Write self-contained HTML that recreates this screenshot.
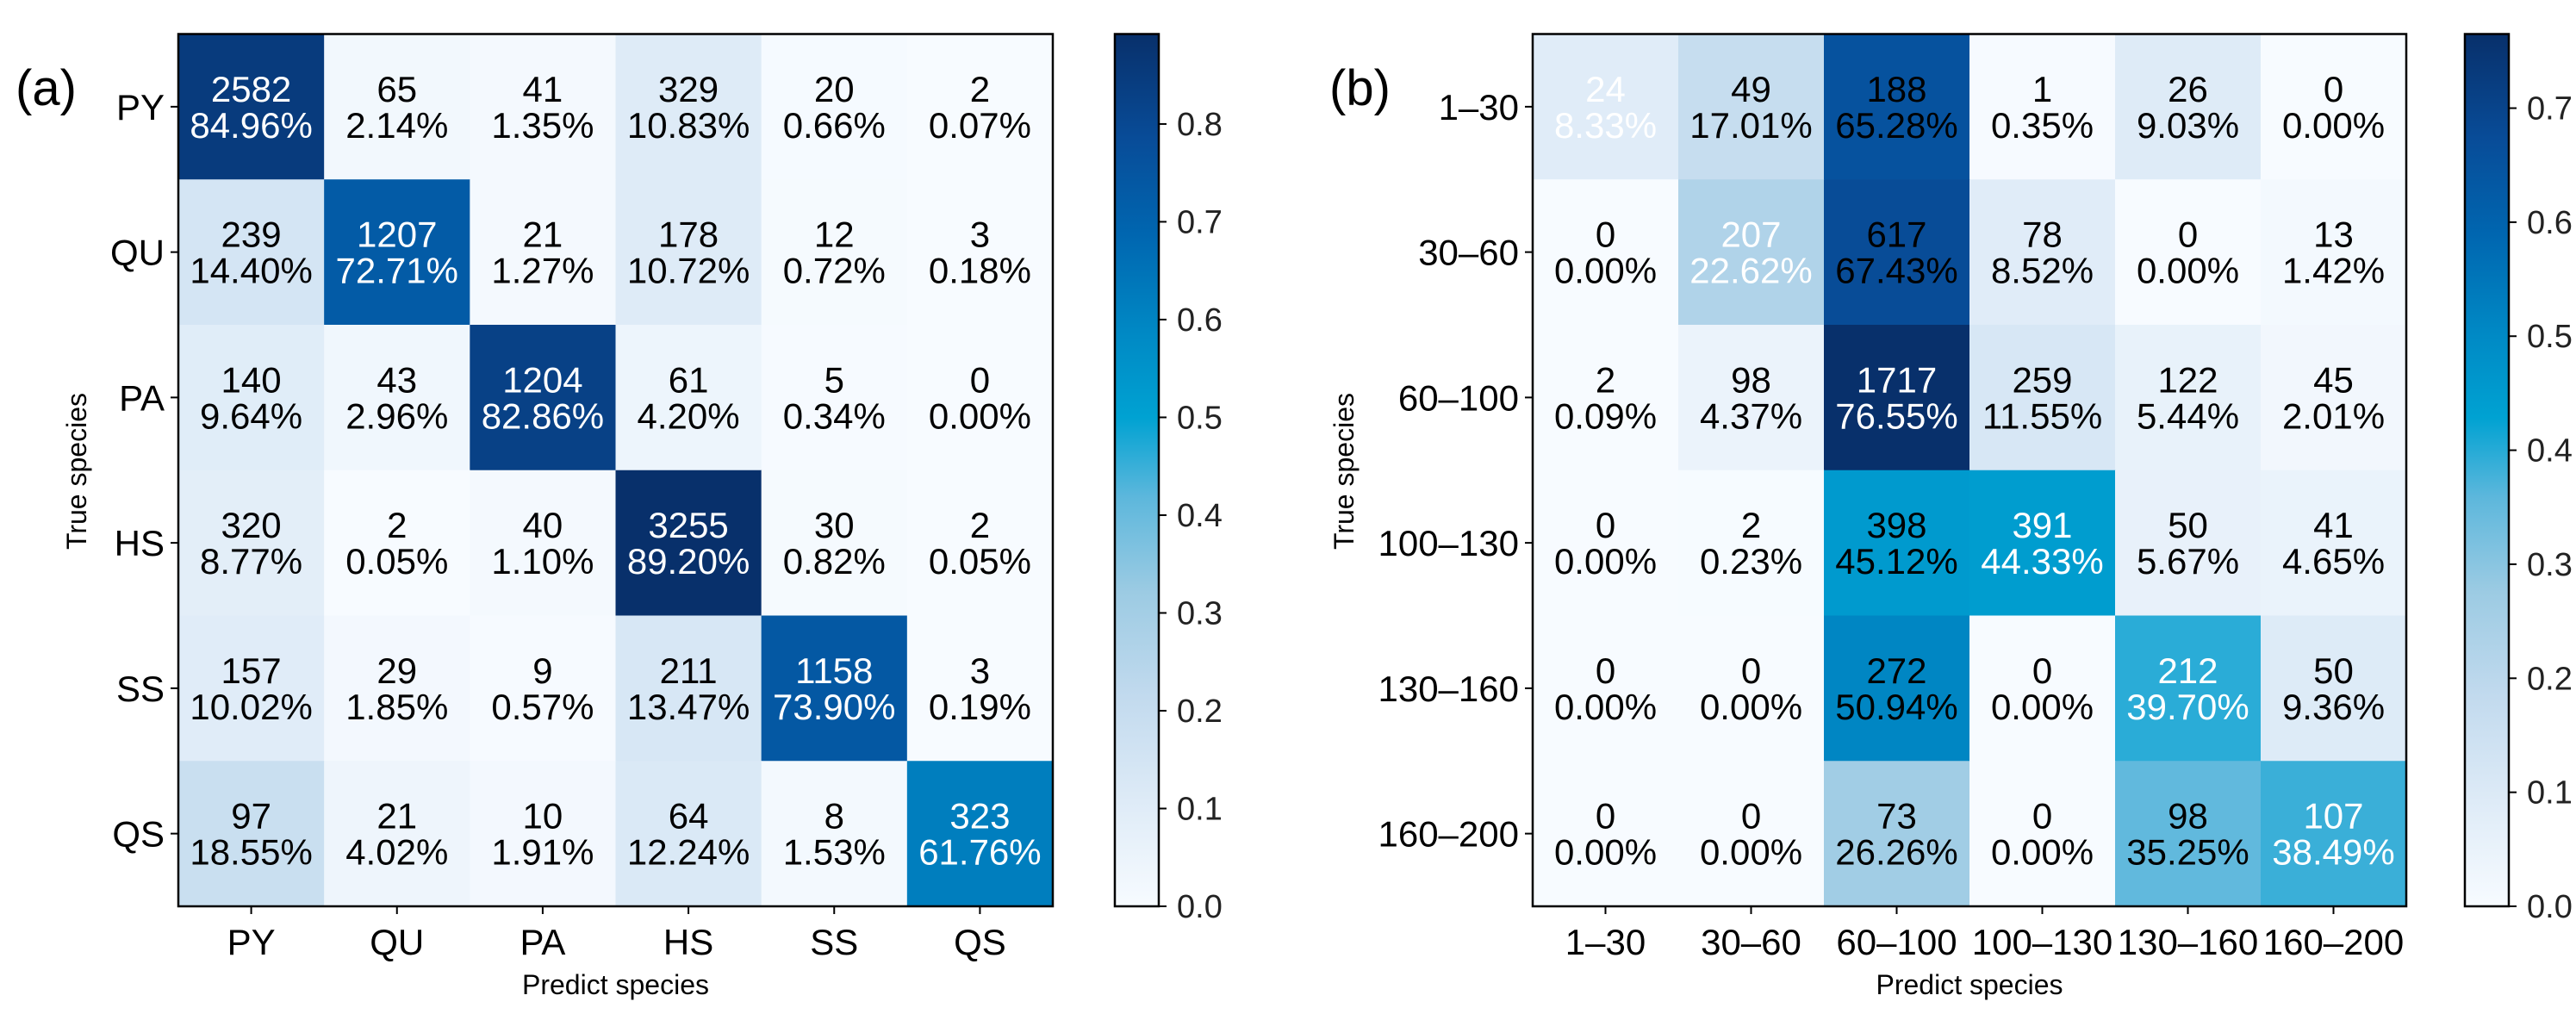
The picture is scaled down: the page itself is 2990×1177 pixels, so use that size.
<!DOCTYPE html>
<html><head><meta charset="utf-8"><style>
html,body{margin:0;padding:0;background:#fff;}
svg{display:block;font-family:"Liberation Sans",Arial,sans-serif;}
</style></head><body>
<svg id="fig" width="2990" height="1177" viewBox="0 0 2990 1177">
<defs>
<linearGradient id="cbgrad" x1="0" y1="1" x2="0" y2="0">
<stop offset="0" stop-color="#f7fbff"/><stop offset="0.12" stop-color="#deebf7"/><stop offset="0.24" stop-color="#c2daee"/><stop offset="0.36" stop-color="#9ccbe3"/><stop offset="0.47" stop-color="#5cb7dc"/><stop offset="0.56" stop-color="#00a2d2"/><stop offset="0.66" stop-color="#0088c4"/><stop offset="0.77" stop-color="#0066b0"/><stop offset="0.88" stop-color="#084c98"/><stop offset="1" stop-color="#08306b"/>
</linearGradient>
</defs>
</svg>
<script>
const labelsA = ["PY","QU","PA","HS","SS","QS"];
const countsA = [[2582,65,41,329,20,2],[239,1207,21,178,12,3],[140,43,1204,61,5,0],[320,2,40,3255,30,2],[157,29,9,211,1158,3],[97,21,10,64,8,323]];
const pctA = [[84.96,2.14,1.35,10.83,0.66,0.07],[14.40,72.71,1.27,10.72,0.72,0.18],[9.64,2.96,82.86,4.20,0.34,0.00],[8.77,0.05,1.10,89.20,0.82,0.05],[10.02,1.85,0.57,13.47,73.90,0.19],[18.55,4.02,1.91,12.24,1.53,61.76]];
const whiteA = [[1,0,0,0,0,0],[0,1,0,0,0,0],[0,0,1,0,0,0],[0,0,0,1,0,0],[0,0,0,0,1,0],[0,0,0,0,0,1]];
const ticksA = ["0.0","0.1","0.2","0.3","0.4","0.5","0.6","0.7","0.8"];
const vmaxA = 0.892;

const labelsB = ["1\u201330","30\u201360","60\u2013100","100\u2013130","130\u2013160","160\u2013200"];
const countsB = [[24,49,188,1,26,0],[0,207,617,78,0,13],[2,98,1717,259,122,45],[0,2,398,391,50,41],[0,0,272,0,212,50],[0,0,73,0,98,107]];
const pctB = [[8.33,17.01,65.28,0.35,9.03,0.00],[0.00,22.62,67.43,8.52,0.00,1.42],[0.09,4.37,76.55,11.55,5.44,2.01],[0.00,0.23,45.12,44.33,5.67,4.65],[0.00,0.00,50.94,0.00,39.70,9.36],[0.00,0.00,26.26,0.00,35.25,38.49]];
const whiteB = [[1,0,0,0,0,0],[0,1,0,0,0,0],[0,0,1,0,0,0],[0,0,0,1,0,0],[0,0,0,0,1,0],[0,0,0,0,0,1]];
const ticksB = ["0.0","0.1","0.2","0.3","0.4","0.5","0.6","0.7"];
const vmaxB = 0.765;

const NS="http://www.w3.org/2000/svg";
const svg=document.getElementById('fig');
const stops=[[0,"#f7fbff"],[0.12,"#deebf7"],[0.24,"#c2daee"],[0.36,"#9ccbe3"],[0.47,"#5cb7dc"],[0.56,"#00a2d2"],[0.66,"#0088c4"],[0.77,"#0066b0"],[0.88,"#084c98"],[1,"#08306b"]];
function hex(h){return [1,3,5].map(i=>parseInt(h.substr(i,2),16));}
function cmap(t){t=Math.max(0,Math.min(1,t));for(let i=1;i<stops.length;i++){if(t<=stops[i][0]){const a=stops[i-1],b=stops[i];const f=(t-a[0])/(b[0]-a[0]);const ca=hex(a[1]),cb=hex(b[1]);return "rgb("+ca.map((v,k)=>Math.round(v+(cb[k]-v)*f)).join(",")+")";}}return stops[stops.length-1][1];}
function el(tag,attrs,parent){const e=document.createElementNS(NS,tag);for(const k in attrs)e.setAttribute(k,attrs[k]);(parent||svg).appendChild(e);return e;}
function txt(s,attrs,parent){const e=el('text',attrs,parent);e.textContent=s;return e;}

function panel(o){
  const g=el('g',{});
  
  
  const n=o.labels.length, x0=o.x0, y0=39.5, W=o.w, H=1012.5;
  const cw=W/n, ch=H/n;
  const xs=i=>x0+i*cw, ys=j=>y0+j*ch;
  for(let r=0;r<n;r++)for(let c=0;c<n;c++){
    const rect=el('rect',{x:xs(c),y:ys(r),width:cw+0.6,height:ch+0.6,fill:cmap(o.pct[r][c]/100/o.vmax)},g);
    
    
    const col=o.white[r][c]?'#fff':'#000';
    const t1=txt(String(o.counts[r][c]),{x:xs(c)+cw/2,y:ys(r)+ch/2-6,'text-anchor':'middle','font-size':42,fill:col},g);
    
    
    const t2=txt(o.pct[r][c].toFixed(2)+'%',{x:xs(c)+cw/2,y:ys(r)+ch/2+36,'text-anchor':'middle','font-size':42,fill:col},g);
    
    
  }
  el('rect',{x:x0,y:y0,width:W,height:H,fill:'none',stroke:'#000','stroke-width':2.5},g);
  for(let i=0;i<n;i++){
    el('line',{x1:xs(i)+cw/2,x2:xs(i)+cw/2,y1:y0+H,y2:y0+H+9,stroke:'#000','stroke-width':2},g);
    const xl=txt(o.labels[i],{x:xs(i)+cw/2,y:y0+H+56,'text-anchor':'middle','font-size':42},g);
    
    
    el('line',{x1:x0-9,x2:x0,y1:ys(i)+ch/2,y2:ys(i)+ch/2,stroke:'#000','stroke-width':2},g);
    const yl=txt(o.labels[i],{x:x0-16,y:ys(i)+ch/2+15,'text-anchor':'end','font-size':42},g);
    
    
  }
  const xt=txt('Predict species',{x:x0+W/2,y:1154,'text-anchor':'middle','font-size':32},g);
  
  
  const yt=txt('True species',{x:0,y:0,'text-anchor':'middle','font-size':32,transform:'translate('+(o.ytx)+',547) rotate(-90)'},g);
  
  
  const pl=txt(o.tag,{x:o.tagx,y:122,'font-size':58},g);
  
  
  // colorbar
  const cb=el('rect',{x:o.cbx,y:y0,width:51,height:H,fill:'url(#cbgrad)',stroke:'#000','stroke-width':2.5},g);
  
  
  const cy=v=>y0+H-(v/o.vmax)*H;
  o.ticks.forEach(s=>{
    const v=parseFloat(s);
    el('line',{x1:o.cbx+51,x2:o.cbx+60,y1:cy(v),y2:cy(v),stroke:'#000','stroke-width':2},g);
    const tl=txt(s,{x:o.cbx+72,y:cy(v)+13,'font-size':38,fill:'#222'},g);
    
    
  });
}
panel({name:'confusion-matrix-a',labels:labelsA,counts:countsA,pct:pctA,white:whiteA,ticks:ticksA,vmax:vmaxA,x0:207,w:1015,cbx:1294,ytx:100,tag:'(a)',tagx:18});
panel({name:'confusion-matrix-b',labels:labelsB,counts:countsB,pct:pctB,white:whiteB,ticks:ticksB,vmax:vmaxB,x0:1779,w:1014,cbx:2861,ytx:1571,tag:'(b)',tagx:1543});
</script>
</body></html>
